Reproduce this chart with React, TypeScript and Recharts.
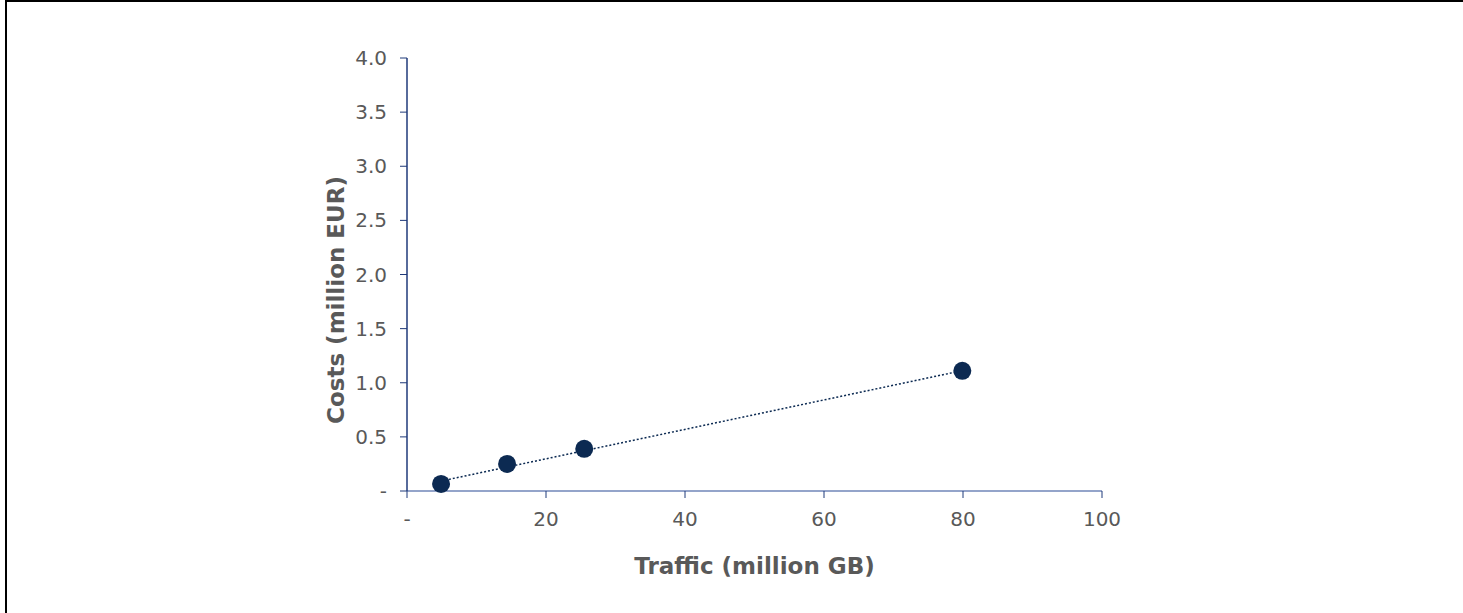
import { ScatterChart, Scatter, XAxis, YAxis, Label } from "recharts";

const trafficGB = [4.9, 14.4, 25.5, 79.9];
const costsEUR = [0.065, 0.25, 0.39, 1.11];
const trendX = [4.9, 79.9];
const trendY = [0.092, 1.112];
const xTicks = [0, 20, 40, 60, 80, 100];
const yTicks = [0, 0.5, 1, 1.5, 2, 2.5, 3, 3.5, 4];

const points = trafficGB.map((x, i) => ({ x, y: costsEUR[i] }));
const trend = trendX.map((x, i) => ({ x, y: trendY[i] }));

const FONT = "'DejaVu Sans', Verdana, sans-serif";
const GREY = "#595959";
const NAVY = "#0c2a52";

const dash = (v: number, digits: number) => (v === 0 ? "-" : v.toFixed(digits));

export default function App() {
  return (
    <div
      style={{
        position: "absolute",
        left: 0,
        top: 0,
        width: 1463,
        height: 613,
        background: "#fff",
        overflow: "hidden",
      }}
    >
      <div
        style={{
          position: "absolute",
          left: 5,
          top: 0,
          width: 1500,
          height: 700,
          borderTop: "2px solid #000",
          borderLeft: "2px solid #000",
        }}
      />
      <div style={{ position: "absolute", left: 0, top: 0 }}>
        <ScatterChart
          width={1463}
          height={613}
          margin={{ top: 58, right: 361, left: 327, bottom: 72 }}
        >
          <XAxis
            type="number"
            dataKey="x"
            domain={[0, 100]}
            ticks={xTicks}
            interval={0}
            height={50}
            tickSize={7}
            tickMargin={14}
            axisLine={{ stroke: "#7186b8", strokeWidth: 1.5 }}
            tickLine={{ stroke: "#1f3a7a" }}
            tick={{ fill: GREY, fontSize: 20, fontFamily: FONT }}
            tickFormatter={(v: number) => dash(v, 0)}
          >
            <Label
              content={({ viewBox }: any) => (
                <text
                  x={viewBox.x + viewBox.width / 2}
                  y={566}
                  textAnchor="middle"
                  dominantBaseline="central"
                  fill={GREY}
                  fontSize={23}
                  fontWeight="bold"
                  fontFamily={FONT}
                >
                  Traffic (million GB)
                </text>
              )}
            />
          </XAxis>
          <YAxis
            type="number"
            dataKey="y"
            domain={[0, 4]}
            ticks={yTicks}
            interval={0}
            width={80}
            tickSize={7}
            tickMargin={13}
            axisLine={{ stroke: "#1f3a7a", strokeWidth: 1.5 }}
            tickLine={{ stroke: "#1f3a7a" }}
            tick={{ fill: GREY, fontSize: 20, fontFamily: FONT }}
            tickFormatter={(v: number) => dash(v, 1)}
          >
            <Label
              content={() => (
                <text
                  x={336}
                  y={300}
                  transform="rotate(-90 336 300)"
                  textAnchor="middle"
                  dominantBaseline="central"
                  fill={GREY}
                  fontSize={23}
                  fontWeight="bold"
                  fontFamily={FONT}
                >
                  Costs (million EUR)
                </text>
              )}
            />
          </YAxis>
          <Scatter
            data={trend}
            line={{ stroke: NAVY, strokeWidth: 1.5, strokeDasharray: "2 2" }}
            shape={() => null}
            isAnimationActive={false}
          />
          <Scatter
            data={points}
            fill={NAVY}
            shape={(p: any) => <circle cx={p.cx} cy={p.cy} r={9} fill={NAVY} />}
            isAnimationActive={false}
          />
        </ScatterChart>
      </div>
    </div>
  );
}
